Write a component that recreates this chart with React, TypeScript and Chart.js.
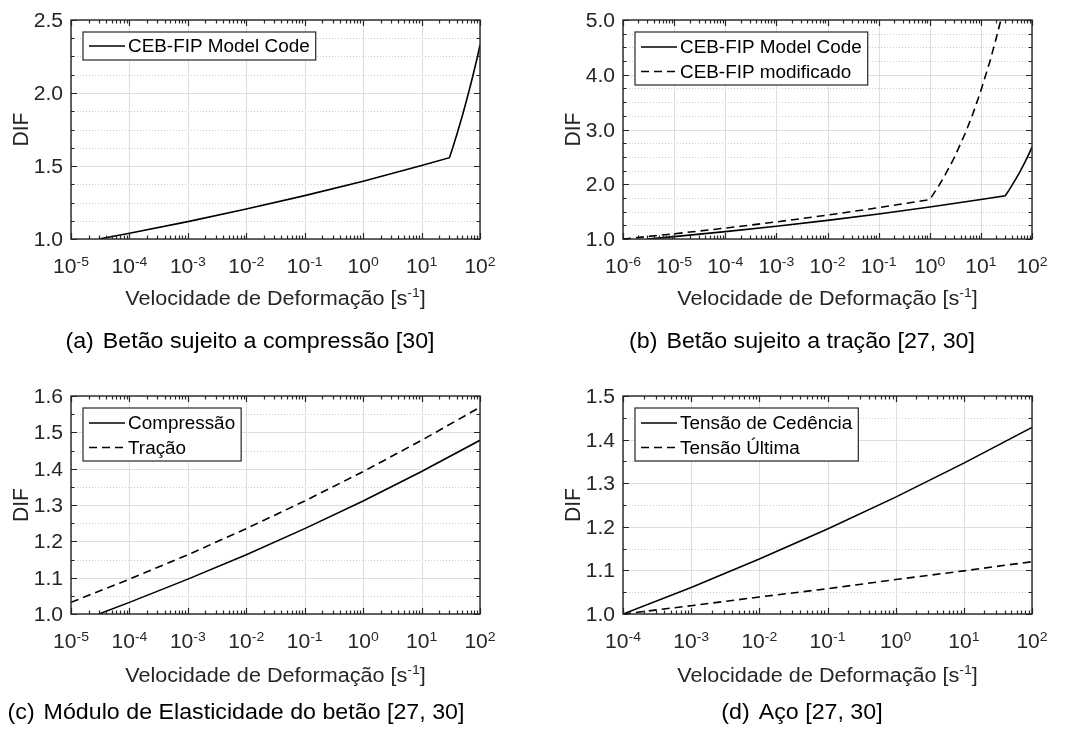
import { useEffect, useRef } from 'react';
import { Chart, registerables } from 'chart.js';

Chart.register(...registerables);

const FONT = '"Liberation Sans", Arial, Helvetica, sans-serif';
const INK = '#262626';
const SX = 1.08; // slight horizontal widening of all lettering

// (a) Betão sujeito a compressão — CEB-FIP Model Code
const rateA = [3e-5, 1e-4, 1e-3, 1e-2, 1e-1, 1, 10, 30, 35, 40, 50, 60, 70, 80, 90, 100];
const difA = [1.0, 1.039, 1.119, 1.205, 1.297, 1.396, 1.503, 1.557, 1.639, 1.714, 1.846, 1.962, 2.065, 2.159, 2.245, 2.33];

// (b) Betão sujeito a tração
const rateB1 = [3e-6, 1e-5, 1e-4, 1e-3, 1e-2, 1e-1, 1, 10, 30, 35, 40, 50, 60, 70, 80, 90, 100];
const difB1 = [1.0, 1.044, 1.135, 1.233, 1.34, 1.456, 1.583, 1.72, 1.79, 1.884, 1.97, 2.122, 2.255, 2.374, 2.482, 2.581, 2.68];
const rateB2 = [1e-6, 1e-5, 1e-4, 1e-3, 1e-2, 1e-1, 1, 1.5, 2, 3, 5, 7, 10, 15, 20, 24.6];
const difB2 = [1.0, 1.095, 1.198, 1.312, 1.436, 1.572, 1.72, 1.969, 2.17, 2.481, 2.94, 3.29, 3.71, 4.24, 4.67, 5.0];

// (c) Módulo de elasticidade do betão
const rateC1 = [3e-5, 1e-4, 1e-3, 1e-2, 1e-1, 1, 10, 100];
const difC1 = [1.0, 1.032, 1.096, 1.163, 1.235, 1.311, 1.392, 1.478];
const rateC2 = [1e-5, 1e-4, 1e-3, 1e-2, 1e-1, 1, 10, 100];
const difC2 = [1.032, 1.096, 1.163, 1.235, 1.311, 1.392, 1.478, 1.569];

// (d) Aço
const rateD = [1e-4, 1e-3, 1e-2, 1e-1, 1, 10, 100];
const difD1 = [1.0, 1.061, 1.126, 1.195, 1.268, 1.346, 1.428];
const difD2 = [1.0, 1.019, 1.039, 1.058, 1.079, 1.099, 1.12];

// tick labels
const xExpA = [-5, -4, -3, -2, -1, 0, 1, 2];
const xExpB = [-6, -5, -4, -3, -2, -1, 0, 1, 2];
const xExpC = [-5, -4, -3, -2, -1, 0, 1, 2];
const xExpD = [-4, -3, -2, -1, 0, 1, 2];
const yTicksA = [1.0, 1.5, 2.0, 2.5];
const yTicksB = [1.0, 2.0, 3.0, 4.0, 5.0];
const yTicksC = [1.0, 1.1, 1.2, 1.3, 1.4, 1.5, 1.6];
const yTicksD = [1.0, 1.1, 1.2, 1.3, 1.4, 1.5];

const X_TITLE_MAIN = 'Velocidade de Deformação [s';
const X_TITLE_SUP = '-1';
const X_TITLE_END = ']';

type Series = { label: string; rate: number[]; dif: number[]; dash: number[] };
type PanelCfg = {
  left: number;
  top: number;
  area: { l: number; t: number; r: number; b: number };
  xExp: number[];
  yTicks: number[];
  ySub: number;
  series: Series[];
  tag: string;
  caption: string;
  captionX: number;
  captionY: number;
  titleY: number;
};

const W = 534;
const H = 365;

const SOLID: number[] = [];
const DASH = [8, 5];

const panels: PanelCfg[] = [
  {
    left: 0, top: 0,
    area: { l: 71, t: 20, r: 480, b: 239 },
    xExp: xExpA, yTicks: yTicksA, ySub: 4,
    series: [{ label: 'CEB-FIP Model Code', rate: rateA, dif: difA, dash: SOLID }],
    tag: '(a)', caption: 'Betão sujeito a compressão [30]', captionX: 250, captionY: 348, titleY: 305,
  },
  {
    left: 534, top: 0,
    area: { l: 89, t: 20, r: 498, b: 239 },
    xExp: xExpB, yTicks: yTicksB, ySub: 4,
    series: [
      { label: 'CEB-FIP Model Code', rate: rateB1, dif: difB1, dash: SOLID },
      { label: 'CEB-FIP modificado', rate: rateB2, dif: difB2, dash: DASH },
    ],
    tag: '(b)', caption: 'Betão sujeito a tração [27, 30]', captionX: 268, captionY: 348, titleY: 305,
  },
  {
    left: 0, top: 364,
    area: { l: 71, t: 32, r: 480, b: 250 },
    xExp: xExpC, yTicks: yTicksC, ySub: 2,
    series: [
      { label: 'Compressão', rate: rateC1, dif: difC1, dash: SOLID },
      { label: 'Tração', rate: rateC2, dif: difC2, dash: DASH },
    ],
    tag: '(c)', caption: 'Módulo de Elasticidade do betão [27, 30]', captionX: 236, captionY: 355, titleY: 318,
  },
  {
    left: 534, top: 364,
    area: { l: 89, t: 32, r: 498, b: 250 },
    xExp: xExpD, yTicks: yTicksD, ySub: 2,
    series: [
      { label: 'Tensão de Cedência', rate: rateD, dif: difD1, dash: SOLID },
      { label: 'Tensão Última', rate: rateD, dif: difD2, dash: DASH },
    ],
    tag: '(d)', caption: 'Aço [27, 30]', captionX: 268, captionY: 355, titleY: 318,
  },
];

function textWidth(ctx: CanvasRenderingContext2D, s: string, size: number) {
  ctx.save();
  ctx.font = `${size}px ${FONT}`;
  const w = ctx.measureText(s).width * SX;
  ctx.restore();
  return w;
}

function drawText(
  ctx: CanvasRenderingContext2D,
  s: string,
  x: number,
  y: number,
  size: number,
  align: 'left' | 'right' | 'center',
  rot = 0,
  color = INK,
) {
  ctx.save();
  ctx.font = `${size}px ${FONT}`;
  ctx.fillStyle = color;
  ctx.textBaseline = 'alphabetic';
  ctx.translate(x, y);
  ctx.scale(SX, 1);
  if (rot) ctx.rotate(rot);
  const w = ctx.measureText(s).width;
  const dx = align === 'left' ? 0 : align === 'right' ? -w : -w / 2;
  ctx.fillText(s, dx, 0);
  ctx.restore();
}

// a run of text pieces, some raised as superscripts, centred on cx
function drawRun(
  ctx: CanvasRenderingContext2D,
  parts: { t: string; sup?: boolean }[],
  cx: number,
  baseline: number,
  size: number,
  supSize: number,
  rise: number,
) {
  const widths = parts.map((p) => textWidth(ctx, p.t, p.sup ? supSize : size));
  const total = widths.reduce((a, b) => a + b, 0);
  let x = cx - total / 2;
  parts.forEach((p, i) => {
    drawText(ctx, p.t, x, p.sup ? baseline - rise : baseline, p.sup ? supSize : size, 'left');
    x += widths[i];
  });
}

function decade(e: number) {
  return Number(`1e${e}`);
}

function framePlugin(cfg: PanelCfg) {
  const TICK = 19.5;
  const minorValues = () => {
    const out: number[] = [];
    const t = cfg.yTicks;
    for (let i = 0; i < t.length - 1; i++) {
      const step = (t[i + 1] - t[i]) / cfg.ySub;
      for (let k = 1; k < cfg.ySub; k++) out.push(t[i] + k * step);
    }
    return out;
  };

  return {
    id: 'frame',
    beforeDatasetsDraw(chart: any) {
      const { ctx, chartArea: a, scales } = chart;
      const x = scales.x;
      const y = scales.y;
      ctx.save();
      ctx.lineWidth = 1;
      // dotted minor grid on the value axis
      ctx.strokeStyle = '#cdcdcd';
      ctx.setLineDash([1, 2]);
      for (const v of minorValues()) {
        const py = Math.round(y.getPixelForValue(v)) + 0.5;
        ctx.beginPath();
        ctx.moveTo(a.left, py);
        ctx.lineTo(a.right, py);
        ctx.stroke();
      }
      // solid major grid
      ctx.setLineDash([]);
      ctx.strokeStyle = '#dedede';
      for (const e of cfg.xExp) {
        const px = Math.round(x.getPixelForValue(decade(e))) + 0.5;
        ctx.beginPath();
        ctx.moveTo(px, a.top);
        ctx.lineTo(px, a.bottom);
        ctx.stroke();
      }
      for (const v of cfg.yTicks) {
        const py = Math.round(y.getPixelForValue(v)) + 0.5;
        ctx.beginPath();
        ctx.moveTo(a.left, py);
        ctx.lineTo(a.right, py);
        ctx.stroke();
      }
      ctx.restore();
    },
    afterDatasetsDraw(chart: any) {
      const { ctx, chartArea: a, scales } = chart;
      const x = scales.x;
      const y = scales.y;
      ctx.save();
      ctx.strokeStyle = INK;
      ctx.lineWidth = 1.2;
      ctx.setLineDash([]);

      // tick marks on all four sides
      const xMax = decade(cfg.xExp[cfg.xExp.length - 1]);
      ctx.beginPath();
      for (const e of cfg.xExp) {
        for (let k = 1; k <= 9; k++) {
          const v = k * decade(e);
          if (v > xMax * 1.0001) break;
          const px = Math.round(x.getPixelForValue(v)) + 0.5;
          const len = k === 1 ? 6 : 3.5;
          ctx.moveTo(px, a.bottom);
          ctx.lineTo(px, a.bottom - len);
          ctx.moveTo(px, a.top);
          ctx.lineTo(px, a.top + len);
        }
      }
      for (const v of cfg.yTicks) {
        const py = Math.round(y.getPixelForValue(v)) + 0.5;
        ctx.moveTo(a.left, py);
        ctx.lineTo(a.left + 6, py);
        ctx.moveTo(a.right, py);
        ctx.lineTo(a.right - 6, py);
      }
      for (const v of minorValues()) {
        const py = Math.round(y.getPixelForValue(v)) + 0.5;
        ctx.moveTo(a.left, py);
        ctx.lineTo(a.left + 3.5, py);
        ctx.moveTo(a.right, py);
        ctx.lineTo(a.right - 3.5, py);
      }
      ctx.stroke();

      // axes box
      ctx.lineWidth = 1.4;
      ctx.strokeRect(a.left, a.top, a.right - a.left, a.bottom - a.top);

      // legend
      const lx = a.left + 12;
      const ly = a.top + 12;
      const LEG = 17.5;
      const n = cfg.series.length;
      const tw = Math.max(...cfg.series.map((s) => textWidth(ctx, s.label, LEG)));
      const bw = 45 + tw + 6;
      const bh = n === 1 ? 28 : 53;
      ctx.fillStyle = '#ffffff';
      ctx.fillRect(lx, ly, bw, bh);
      ctx.lineWidth = 1.2;
      ctx.strokeStyle = INK;
      ctx.strokeRect(lx, ly, bw, bh);
      cfg.series.forEach((s, i) => {
        const cy = ly + (n === 1 ? 14 : 15 + i * 24.5);
        ctx.save();
        ctx.strokeStyle = '#000';
        ctx.lineWidth = 1.6;
        ctx.setLineDash(s.dash);
        ctx.beginPath();
        ctx.moveTo(lx + 6, cy);
        ctx.lineTo(lx + 42, cy);
        ctx.stroke();
        ctx.restore();
        drawText(ctx, s.label, lx + 45, cy + 0.36 * LEG, LEG, 'left', 0, '#000');
      });

      // value-axis labels
      for (const v of cfg.yTicks) {
        const py = y.getPixelForValue(v);
        drawText(ctx, v.toFixed(1), a.left - 8, py + 0.36 * TICK, TICK, 'right');
      }
      // rate-axis labels as powers of ten
      for (const e of cfg.xExp) {
        const px = x.getPixelForValue(decade(e));
        drawRun(ctx, [{ t: '10' }, { t: String(e), sup: true }], px, a.bottom + 34, TICK, 13, 7.5);
      }

      // axis titles
      const cxArea = (a.left + a.right) / 2;
      drawRun(
        ctx,
        [{ t: X_TITLE_MAIN }, { t: X_TITLE_SUP, sup: true }, { t: X_TITLE_END }],
        cxArea,
        cfg.titleY,
        20,
        13,
        8,
      );
      const DIF = 21;
      drawText(ctx, 'DIF', a.left - 51 + (0.716 * DIF * SX) / 2, (a.top + a.bottom) / 2, DIF, 'center', -Math.PI / 2);

      // sub-figure caption
      const CAP = 21.5;
      const gap = 9;
      const wTag = textWidth(ctx, cfg.tag, CAP);
      const wCap = textWidth(ctx, cfg.caption, CAP);
      const x0 = cfg.captionX - (wTag + gap + wCap) / 2;
      drawText(ctx, cfg.tag, x0, cfg.captionY, CAP, 'left', 0, '#000');
      drawText(ctx, cfg.caption, x0 + wTag + gap, cfg.captionY, CAP, 'left', 0, '#000');

      ctx.restore();
    },
  };
}

function DifPanel({ cfg }: { cfg: PanelCfg }) {
  const ref = useRef<HTMLCanvasElement>(null);
  useEffect(() => {
    const canvas = ref.current;
    if (!canvas) return;
    const xs = cfg.xExp;
    const chart = new Chart(canvas, {
      type: 'line',
      data: {
        datasets: cfg.series.map((s) => ({
          label: s.label,
          data: s.rate.map((r, i) => ({ x: r, y: s.dif[i] })),
          borderColor: '#000000',
          borderWidth: 1.6,
          borderDash: s.dash,
          pointRadius: 0,
          tension: 0,
          fill: false,
        })),
      },
      options: {
        responsive: false,
        animation: false,
        devicePixelRatio: 1,
        events: [],
        layout: {
          padding: { left: cfg.area.l, top: cfg.area.t, right: W - cfg.area.r, bottom: H - cfg.area.b },
        },
        scales: {
          x: { type: 'logarithmic', min: decade(xs[0]), max: decade(xs[xs.length - 1]), display: false },
          y: {
            type: 'linear',
            min: cfg.yTicks[0],
            max: cfg.yTicks[cfg.yTicks.length - 1],
            display: false,
          },
        },
        plugins: { legend: { display: false }, tooltip: { enabled: false } },
      },
      plugins: [framePlugin(cfg)],
    } as any);
    return () => chart.destroy();
  }, [cfg]);
  return (
    <canvas
      ref={ref}
      width={W}
      height={H}
      style={{ position: 'absolute', left: cfg.left, top: cfg.top, width: W, height: H }}
    />
  );
}

export default function App() {
  return (
    <div style={{ position: 'absolute', left: 0, top: 0, width: 1068, height: 729, background: '#ffffff' }}>
      {panels.map((p, i) => (
        <DifPanel key={i} cfg={p} />
      ))}
    </div>
  );
}
